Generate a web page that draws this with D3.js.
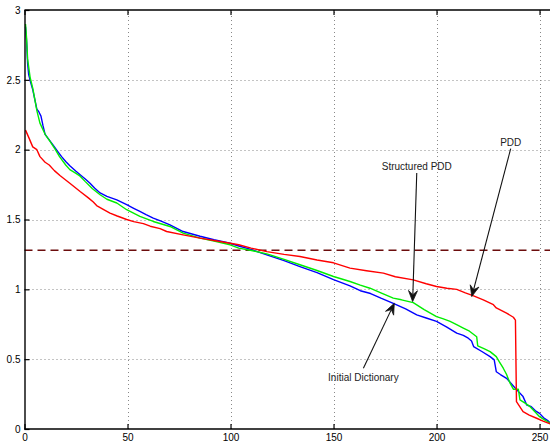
<!DOCTYPE html>
<html>
<head>
  <meta charset="utf-8">
  <script src="https://d3js.org/d3.v7.min.js"></script>
  <style>
    body { margin: 0; background: #fff; }
    text { font-family: "Liberation Sans", Arial, sans-serif; }
    .grid line { stroke: #888; stroke-dasharray: 1,3; }
  </style>
</head>
<body>
<script>
// x ticks and y ticks of the plot
var xTicks = [0, 50, 100, 150, 200, 250];
var yTicks = [0, 0.5, 1, 1.5, 2, 2.5, 3];

// threshold (dashed line)
var threshold = 1.28;

// Initial Dictionary (blue) as [index, value]
var initialDict = [
  [0.5,2.88],[1,2.78],[1.5,2.62],[2,2.54],[3,2.48],[4,2.43],[5,2.36],[6,2.29],[7,2.27],[8,2.24],
  [9,2.17],[10,2.11],[12,2.07],[14,2.03],[16,1.99],[18,1.95],[20,1.915],[22,1.885],[25,1.845],[27,1.82],
  [29.5,1.79],[31.8,1.76],[34,1.725],[36.7,1.69],[40,1.665],[44.8,1.64],[49.6,1.606],[53,1.58],[56,1.558],
  [59,1.535],[62.5,1.51],[66,1.49],[70.6,1.462],[77,1.414],[85.2,1.38],[92,1.355],[99.8,1.33],[104,1.31],[109,1.29],
  [117.6,1.247],[126,1.205],[133.7,1.163],
  [142,1.12],[150,1.07],[158,1.025],[163,0.99],[168,0.97],[173,0.937],[179,0.9],[185,0.86],[190.4,0.817],
  [195,0.795],[200,0.77],[205,0.73],[209.8,0.686],[213,0.67],[215.4,0.65],[217,0.63],[218,0.59],
  [222,0.555],[226,0.518],[228,0.495],[229,0.41],[231,0.39],[234,0.363],[236,0.33],[239,0.28],
  [242,0.232],[243.8,0.172],[246,0.16],[248,0.13],[250,0.112],[252,0.08],[254,0.06],[255.5,0.04]
];

// Structured PDD (green)
var structuredPdd = [
  [0.5,2.9],[1,2.8],[1.5,2.65],[2.7,2.52],[4,2.44],[5,2.36],[6,2.28],[7.5,2.19],[10,2.11],[12.4,2.06],
  [15,2.0],[17,1.95],[20,1.89],[22,1.857],[25,1.83],[27,1.81],[29.4,1.773],[33,1.72],[36.7,1.677],[40,1.645],
  [44.8,1.618],[49.6,1.57],[56,1.522],[62.5,1.486],[70.6,1.45],[77,1.403],[85.2,1.367],[92,1.345],
  [99.8,1.319],[104,1.295],[109,1.282],[117.6,1.254],[126,1.215],[133.7,1.176],[142,1.135],[150,1.092],[158,1.056],
  [163,1.03],[167.7,1.008],[173,0.975],[179,0.937],[183,0.925],[188.7,0.905],[194,0.855],[200,0.805],
  [203,0.79],[206.6,0.77],[210,0.745],[213,0.722],[216,0.7],[219.5,0.66],[220,0.595],[223,0.575],
  [226,0.554],[229,0.518],[230.5,0.48],[232.4,0.435],[234,0.39],[235.7,0.328],[237.3,0.285],[239.7,0.285],
  [240.5,0.208],[243,0.185],[245.4,0.16],[248,0.12],[250,0.088],[253,0.06],[255.5,0.04]
];

// PDD (red)
var pdd = [
  [0.5,2.14],[2,2.09],[4,2.02],[6,2.0],[7.5,1.95],[10,1.91],[12,1.89],[14.5,1.85],[17.2,1.815],[22,1.76],
  [27,1.7],[31,1.655],[33.4,1.625],[35,1.6],[38,1.575],[41.5,1.546],[45,1.525],[49.6,1.5],[53,1.485],
  [57.7,1.47],[61,1.452],[65.8,1.435],[69,1.414],[77,1.39],
  [85.2,1.367],[92,1.35],[99.8,1.33],[104,1.319],[110,1.295],[117.6,1.27],[126,1.25],[133.7,1.235],[142,1.21],[150,1.19],
  [158,1.152],[166,1.133],[174.2,1.116],[180,1.09],[188.7,1.068],[195,1.04],[200,1.02],[205,1.008],
  [209.8,1.0],[214,0.975],[218,0.953],[222.7,0.925],[227.6,0.89],[229,0.867],[234,0.83],[237.3,0.8],
  [238.3,0.78],[238.8,0.196],[242,0.124],[245,0.1],[248.6,0.077],[252,0.055],[255.5,0.036]
];

// arrows: label, tip [x, y], tail [x, y] in data units
var annotations = [
  { label: "Structured PDD", tip: [188.4, 0.912], tail: [190.4, 1.833], below: false },
  { label: "PDD", tip: [217.1, 0.948], tail: [236.0, 2.007], below: false },
  { label: "Initial Dictionary", tip: [179.5, 0.9], tail: [164.5, 0.435], below: true }
];

var W = 550, H = 444;
var svg = d3.select("body").append("svg").attr("width", W).attr("height", H);

var x = d3.scaleLinear().domain([0, 256]).range([24.5, 551.9]);
var y = d3.scaleLinear().domain([0, 3]).range([429, 10]);

// grid
var grid = svg.append("g").attr("class", "grid");
grid.selectAll("line.v").data(xTicks.filter(function (d) { return d > 0; }))
  .enter().append("line").attr("class", "v")
  .attr("x1", function (d) { return Math.round(x(d)) + 0.5; })
  .attr("x2", function (d) { return Math.round(x(d)) + 0.5; })
  .attr("y1", y(0)).attr("y2", y(3));
grid.selectAll("line.h").data(yTicks.filter(function (d) { return d > 0 && d < 3; }))
  .enter().append("line").attr("class", "h")
  .attr("y1", function (d) { return Math.round(y(d)) + 0.5; })
  .attr("y2", function (d) { return Math.round(y(d)) + 0.5; })
  .attr("x1", x(0)).attr("x2", W);

// threshold dashed line
svg.append("line")
  .attr("x1", x(0)).attr("x2", W)
  .attr("y1", y(threshold)).attr("y2", y(threshold))
  .attr("stroke", "#6b0d0d").attr("stroke-width", 1.5)
  .attr("stroke-dasharray", "8,5");

// curves
var line = d3.line()
  .x(function (d) { return x(d[0]); })
  .y(function (d) { return y(d[1]); });

[[initialDict, "#0000ff"], [structuredPdd, "#00ee00"], [pdd, "#ff0000"]].forEach(function (s) {
  svg.append("path").datum(s[0])
    .attr("d", line)
    .attr("fill", "none")
    .attr("stroke", s[1])
    .attr("stroke-width", 1.4)
    .attr("stroke-linejoin", "round");
});

// axes
var fmt = function (d) { return d3.format("~g")(d); };
var xAxis = svg.append("g").attr("transform", "translate(0," + y(0) + ")")
  .call(d3.axisBottom(x).tickValues(xTicks).tickSizeInner(-5).tickSizeOuter(0).tickPadding(5).tickFormat(fmt));
var xTop = svg.append("g").attr("transform", "translate(0," + y(3) + ")")
  .call(d3.axisTop(x).tickValues(xTicks).tickSizeInner(-5).tickSizeOuter(0).tickFormat(""));
var yAxis = svg.append("g").attr("transform", "translate(" + x(0) + ",0)")
  .call(d3.axisLeft(y).tickValues(yTicks).tickSizeInner(-5).tickSizeOuter(0).tickPadding(4).tickFormat(fmt));

[xAxis, xTop, yAxis].forEach(function (g) {
  g.select(".domain").attr("stroke", "#000").attr("stroke-width", 1.4);
  g.selectAll(".tick line").attr("stroke", "#000").attr("stroke-width", 1.2);
  g.selectAll("text").attr("font-size", "10px").attr("fill", "#000")
    .style("font-family", "'Liberation Sans', Arial, sans-serif");
});
xAxis.select(".domain").attr("d", "M" + x(0) + ",0H" + W);
xTop.select(".domain").attr("d", "M" + x(0) + ",0H" + W);

// annotations
annotations.forEach(function (a) {
  var tx = x(a.tail[0]), ty = y(a.tail[1]);
  var px = x(a.tip[0]), py = y(a.tip[1]);
  var ang = Math.atan2(py - ty, px - tx);
  var L = 11, Wd = 4.5, back = 7;
  var bx = px - back * Math.cos(ang), by = py - back * Math.sin(ang);
  svg.append("line")
    .attr("x1", tx).attr("y1", ty).attr("x2", bx).attr("y2", by)
    .attr("stroke", "#111").attr("stroke-width", 1.1);
  var p1 = [px - L * Math.cos(ang) + Wd * Math.sin(ang), py - L * Math.sin(ang) - Wd * Math.cos(ang)];
  var p2 = [px - L * Math.cos(ang) - Wd * Math.sin(ang), py - L * Math.sin(ang) + Wd * Math.cos(ang)];
  svg.append("path")
    .attr("d", "M" + px + "," + py + "L" + p1 + "L" + bx + "," + by + "L" + p2 + "Z")
    .attr("fill", "#111").attr("stroke", "#111").attr("stroke-width", 0.8);
  svg.append("text")
    .attr("x", tx).attr("y", a.below ? ty + 12.5 : ty - 3)
    .attr("text-anchor", "middle")
    .attr("font-size", "10px").attr("fill", "#222")
    .text(a.label);
});
</script>
</body>
</html>
